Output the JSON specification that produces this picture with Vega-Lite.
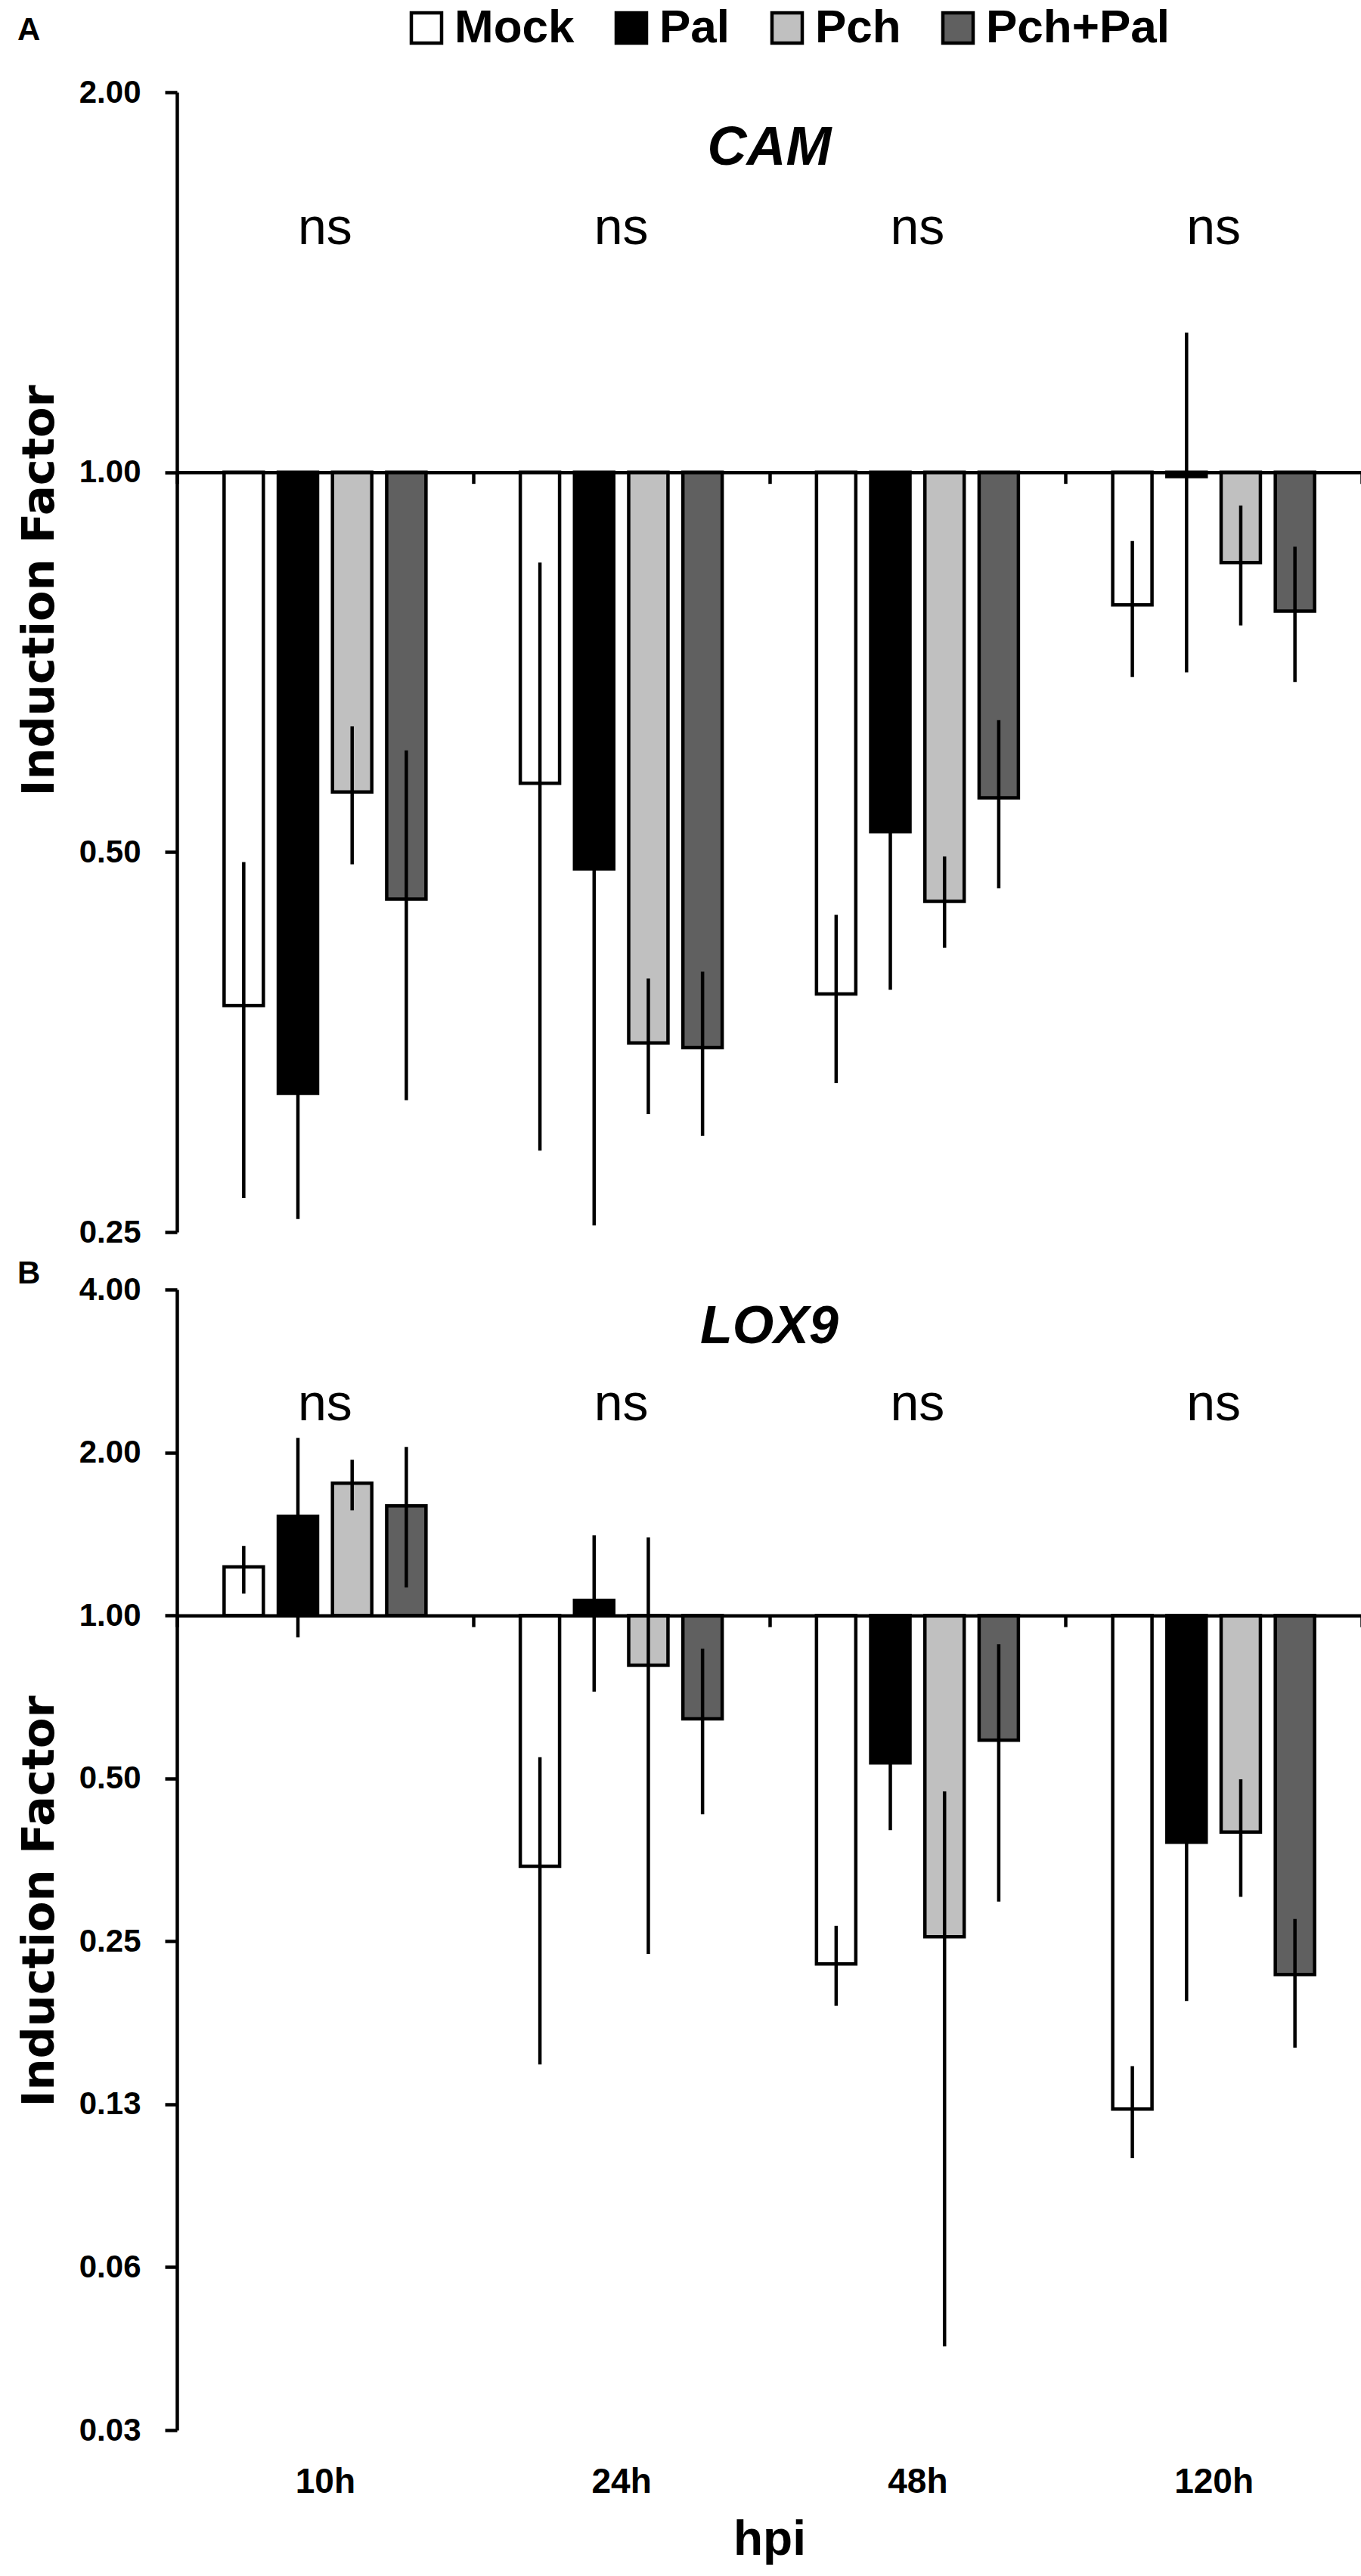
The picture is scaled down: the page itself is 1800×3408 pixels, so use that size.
{
  "$schema": "https://vega.github.io/schema/vega-lite/v6.json",
  "background": "white",
  "padding": {"left": 23, "top": 6, "right": 0, "bottom": 0},
  "spacing": 13,
  "datasets": {
    "cam": [
      {"hpi": "10h", "treatment": "Mock", "value": 0.378, "lo": 0.266, "hi": 0.491},
      {"hpi": "10h", "treatment": "Pal", "value": 0.322, "lo": 0.256, "hi": 0.388},
      {"hpi": "10h", "treatment": "Pch", "value": 0.558, "lo": 0.489, "hi": 0.629},
      {"hpi": "10h", "treatment": "Pch+Pal", "value": 0.459, "lo": 0.318, "hi": 0.602},
      {"hpi": "24h", "treatment": "Mock", "value": 0.567, "lo": 0.290, "hi": 0.848},
      {"hpi": "24h", "treatment": "Pal", "value": 0.485, "lo": 0.253, "hi": 0.717},
      {"hpi": "24h", "treatment": "Pch", "value": 0.353, "lo": 0.310, "hi": 0.397},
      {"hpi": "24h", "treatment": "Pch+Pal", "value": 0.350, "lo": 0.298, "hi": 0.402},
      {"hpi": "48h", "treatment": "Mock", "value": 0.386, "lo": 0.328, "hi": 0.446},
      {"hpi": "48h", "treatment": "Pal", "value": 0.519, "lo": 0.389, "hi": 0.649},
      {"hpi": "48h", "treatment": "Pch", "value": 0.457, "lo": 0.420, "hi": 0.496},
      {"hpi": "48h", "treatment": "Pch+Pal", "value": 0.552, "lo": 0.468, "hi": 0.636},
      {"hpi": "120h", "treatment": "Mock", "value": 0.785, "lo": 0.688, "hi": 0.882},
      {"hpi": "120h", "treatment": "Pal", "value": 0.992, "lo": 0.694, "hi": 1.290},
      {"hpi": "120h", "treatment": "Pch", "value": 0.848, "lo": 0.756, "hi": 0.941},
      {"hpi": "120h", "treatment": "Pch+Pal", "value": 0.776, "lo": 0.682, "hi": 0.873}
    ],
    "lox9": [
      {"hpi": "10h", "treatment": "Mock", "value": 1.229, "lo": 1.097, "hi": 1.344},
      {"hpi": "10h", "treatment": "Pal", "value": 1.524, "lo": 0.911, "hi": 2.129},
      {"hpi": "10h", "treatment": "Pch", "value": 1.755, "lo": 1.563, "hi": 1.939},
      {"hpi": "10h", "treatment": "Pch+Pal", "value": 1.594, "lo": 1.126, "hi": 2.048},
      {"hpi": "24h", "treatment": "Mock", "value": 0.344, "lo": 0.148, "hi": 0.547},
      {"hpi": "24h", "treatment": "Pal", "value": 1.066, "lo": 0.723, "hi": 1.406},
      {"hpi": "24h", "treatment": "Pch", "value": 0.809, "lo": 0.237, "hi": 1.393},
      {"hpi": "24h", "treatment": "Pch+Pal", "value": 0.644, "lo": 0.429, "hi": 0.868},
      {"hpi": "48h", "treatment": "Mock", "value": 0.227, "lo": 0.190, "hi": 0.267},
      {"hpi": "48h", "treatment": "Pal", "value": 0.534, "lo": 0.401, "hi": 0.667},
      {"hpi": "48h", "treatment": "Pch", "value": 0.255, "lo": 0.0446, "hi": 0.473},
      {"hpi": "48h", "treatment": "Pch+Pal", "value": 0.588, "lo": 0.296, "hi": 0.885},
      {"hpi": "120h", "treatment": "Mock", "value": 0.1225, "lo": 0.0994, "hi": 0.147},
      {"hpi": "120h", "treatment": "Pal", "value": 0.381, "lo": 0.194, "hi": 0.568},
      {"hpi": "120h", "treatment": "Pch", "value": 0.398, "lo": 0.302, "hi": 0.498},
      {"hpi": "120h", "treatment": "Pch+Pal", "value": 0.217, "lo": 0.159, "hi": 0.275}
    ],
    "ns": [
      {"hpi": "10h", "label": "ns"},
      {"hpi": "24h", "label": "ns"},
      {"hpi": "48h", "label": "ns"},
      {"hpi": "120h", "label": "ns"}
    ]
  },
  "config": {
    "view": {"stroke": null},
    "axis": {"grid": false, "domainColor": "black", "tickColor": "black", "labelColor": "black", "titleColor": "black"},
    "title": {"anchor": "start", "frame": "bounds", "font": "Liberation Sans", "fontSize": 42, "fontWeight": "bold", "color": "black"}
  },
  "vconcat": [
    {
      "title": {"text": "A", "offset": 39},
      "width": 1567,
      "height": 1508,
      "encoding": {
        "x": {
          "field": "hpi", "type": "nominal", "title": null,
          "scale": {"domain": ["10h", "24h", "48h", "120h"], "paddingInner": 0, "paddingOuter": 0},
          "axis": {"orient": "bottom", "offset": -1005.33, "tickBand": "extent", "tickSize": 15, "tickWidth": 4.5, "domainWidth": 4.5, "labels": false, "zindex": 1}
        }
      },
      "layer": [
        {
          "data": {"name": "cam"},
          "mark": {"type": "bar", "stroke": "black", "strokeWidth": 4.5},
          "encoding": {
            "xOffset": {"field": "treatment", "type": "nominal", "scale": {"domain": ["Mock", "Pal", "Pch", "Pch+Pal"], "paddingInner": 0.275, "paddingOuter": 0.87}},
            "y": {
              "field": "value", "type": "quantitative", "title": "Induction Factor",
              "scale": {"type": "log", "base": 2, "domain": [0.25, 2], "nice": false},
              "axis": {"values": [0.25, 0.5, 1, 2], "format": ".2f", "labelFont": "Liberation Sans", "labelFontWeight": "bold", "labelFontSize": 42, "labelPadding": 32, "tickSize": 16, "tickWidth": 4.5, "domainWidth": 4.5, "titleFont": "DejaVu Sans", "titleFontWeight": "bold", "titleFontSize": 59, "titleBaseline": "alphabetic", "titleX": -164, "titleY": 659}
            },
            "y2": {"datum": 1},
            "color": {
              "field": "treatment", "type": "nominal",
              "scale": {"domain": ["Mock", "Pal", "Pch", "Pch+Pal"], "range": ["#ffffff", "#000000", "#c0c0c0", "#606060"]},
              "legend": {"orient": "none", "legendX": 299, "legendY": -116, "direction": "horizontal", "title": null, "padding": 0, "symbolType": "square", "symbolSize": 1600, "symbolStrokeColor": "black", "symbolStrokeWidth": 4.5, "symbolOpacity": 1, "labelFont": "Liberation Sans", "labelFontWeight": "bold", "labelFontSize": 62, "labelColor": "black", "labelOffset": 6, "labelLimit": 500, "columnPadding": 44}
            }
          }
        },
        {
          "data": {"name": "cam"},
          "mark": {"type": "rule", "color": "black", "strokeWidth": 4.5},
          "encoding": {
            "xOffset": {"field": "treatment", "type": "nominal", "scale": {"domain": ["Mock", "Pal", "Pch", "Pch+Pal"], "paddingInner": 0.275, "paddingOuter": 0.87}},
            "y": {"field": "lo", "type": "quantitative", "title": "Induction Factor", "scale": {"type": "log", "base": 2, "domain": [0.25, 2], "nice": false}},
            "y2": {"field": "hi"}
          }
        },
        {
          "data": {"name": "ns"},
          "mark": {"type": "text", "font": "Liberation Sans", "fontSize": 68, "baseline": "alphabetic", "color": "black"},
          "encoding": {
            "y": {"datum": 1.515, "type": "quantitative", "title": "Induction Factor", "scale": {"type": "log", "base": 2, "domain": [0.25, 2], "nice": false}},
            "text": {"field": "label"}
          }
        },
        {
          "data": {"values": [{"gene": "CAM"}]},
          "mark": {"type": "text", "font": "Liberation Sans", "fontSize": 72, "fontWeight": "bold", "fontStyle": "italic", "baseline": "alphabetic", "color": "black"},
          "encoding": {
            "x": {"datum": "48h", "type": "nominal", "bandPosition": 0, "title": null, "scale": {"domain": ["10h", "24h", "48h", "120h"], "paddingInner": 0, "paddingOuter": 0}},
            "y": {"datum": 1.752, "type": "quantitative", "title": "Induction Factor", "scale": {"type": "log", "base": 2, "domain": [0.25, 2], "nice": false}},
            "text": {"field": "gene"}
          }
        }
      ]
    },
    {
      "title": {"text": "B", "offset": -22},
      "width": 1567,
      "height": 1509,
      "encoding": {
        "x": {
          "field": "hpi", "type": "nominal", "title": "hpi",
          "scale": {"domain": ["10h", "24h", "48h", "120h"], "paddingInner": 0, "paddingOuter": 0},
          "axis": {"orient": "bottom", "offset": -1077.86, "tickBand": "extent", "tickSize": 15, "tickWidth": 4.5, "domainWidth": 4.5, "labelAngle": 0, "labelFont": "Liberation Sans", "labelFontWeight": "bold", "labelFontSize": 46, "labelBaseline": "alphabetic", "labelPadding": 1145, "titleFont": "Liberation Sans", "titleFontWeight": "bold", "titleFontSize": 64, "titleBaseline": "alphabetic", "titleY": 1242, "zindex": 1}
        }
      },
      "layer": [
        {
          "data": {"name": "lox9"},
          "mark": {"type": "bar", "stroke": "black", "strokeWidth": 4.5},
          "encoding": {
            "xOffset": {"field": "treatment", "type": "nominal", "scale": {"domain": ["Mock", "Pal", "Pch", "Pch+Pal"], "paddingInner": 0.275, "paddingOuter": 0.87}},
            "y": {
              "field": "value", "type": "quantitative", "title": "Induction Factor",
              "scale": {"type": "log", "base": 2, "domain": [0.03125, 4], "nice": false},
              "axis": {"values": [0.03125, 0.0625, 0.125, 0.25, 0.5, 1, 2, 4], "format": ".2f", "labelFont": "Liberation Sans", "labelFontWeight": "bold", "labelFontSize": 42, "labelPadding": 32, "tickSize": 16, "tickWidth": 4.5, "domainWidth": 4.5, "titleFont": "DejaVu Sans", "titleFontWeight": "bold", "titleFontSize": 59, "titleBaseline": "alphabetic", "titleX": -164, "titleY": 809}
            },
            "y2": {"datum": 1},
            "color": {
              "field": "treatment", "type": "nominal",
              "scale": {"domain": ["Mock", "Pal", "Pch", "Pch+Pal"], "range": ["#ffffff", "#000000", "#c0c0c0", "#606060"]},
              "legend": {"orient": "none", "legendX": 299, "legendY": -116, "direction": "horizontal", "title": null, "padding": 0, "symbolType": "square", "symbolSize": 1600, "symbolStrokeColor": "black", "symbolStrokeWidth": 4.5, "symbolOpacity": 1, "labelFont": "Liberation Sans", "labelFontWeight": "bold", "labelFontSize": 62, "labelColor": "black", "labelOffset": 6, "labelLimit": 500, "columnPadding": 44}
            }
          }
        },
        {
          "data": {"name": "lox9"},
          "mark": {"type": "rule", "color": "black", "strokeWidth": 4.5},
          "encoding": {
            "xOffset": {"field": "treatment", "type": "nominal", "scale": {"domain": ["Mock", "Pal", "Pch", "Pch+Pal"], "paddingInner": 0.275, "paddingOuter": 0.87}},
            "y": {"field": "lo", "type": "quantitative", "title": "Induction Factor", "scale": {"type": "log", "base": 2, "domain": [0.03125, 4], "nice": false}},
            "y2": {"field": "hi"}
          }
        },
        {
          "data": {"name": "ns"},
          "mark": {"type": "text", "font": "Liberation Sans", "fontSize": 68, "baseline": "alphabetic", "color": "black"},
          "encoding": {
            "y": {"datum": 2.29, "type": "quantitative", "title": "Induction Factor", "scale": {"type": "log", "base": 2, "domain": [0.03125, 4], "nice": false}},
            "text": {"field": "label"}
          }
        },
        {
          "data": {"values": [{"gene": "LOX9"}]},
          "mark": {"type": "text", "font": "Liberation Sans", "fontSize": 70, "fontWeight": "bold", "fontStyle": "italic", "baseline": "alphabetic", "color": "black"},
          "encoding": {
            "x": {"datum": "48h", "type": "nominal", "bandPosition": 0, "title": "hpi", "scale": {"domain": ["10h", "24h", "48h", "120h"], "paddingInner": 0, "paddingOuter": 0}},
            "y": {"datum": 3.18, "type": "quantitative", "title": "Induction Factor", "scale": {"type": "log", "base": 2, "domain": [0.03125, 4], "nice": false}},
            "text": {"field": "gene"}
          }
        }
      ]
    }
  ]
}
